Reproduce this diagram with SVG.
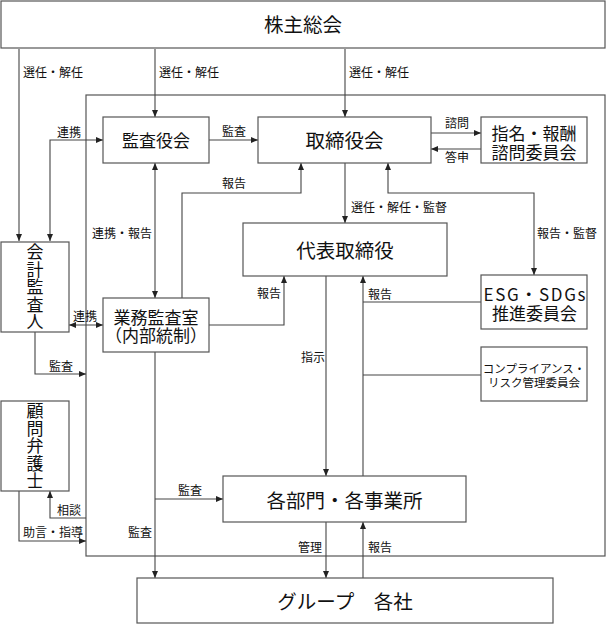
<svg xmlns="http://www.w3.org/2000/svg" width="606" height="624" viewBox="0 0 606 624">
<defs>
<marker id="ah" viewBox="0 0 7 6" refX="7" refY="3" markerWidth="7" markerHeight="6" markerUnits="userSpaceOnUse" orient="auto-start-reverse">
<path d="M0,0 L7,3 L0,6 z" fill="#222"/>
</marker>
<style>
.box{fill:#fff;stroke:#555;stroke-width:1.2}
.frame{fill:none;stroke:#555;stroke-width:1.2}
.ln{fill:none;stroke:#444;stroke-width:1.1}
.a{marker-end:url(#ah)}
.b{marker-start:url(#ah);marker-end:url(#ah)}
text{font-family:"Noto Sans CJK JP","Noto Sans",sans-serif;fill:#111}
.big{font-size:19.5px;text-anchor:middle}
.mid{font-size:17px;text-anchor:middle}
.vt{font-size:17px;text-anchor:middle;writing-mode:vertical-rl;letter-spacing:0.5px}
.sm{font-size:11.5px;text-anchor:middle}
.lb{font-size:12px}
</style>
</defs>
<rect x="0" y="0" width="606" height="624" fill="#fff"/>
<rect class="frame" x="86" y="95" width="519" height="461"/>

<g id="connectors">
<path class="ln a" d="M19,49 V241"/>
<path class="ln a" d="M155,49 V117"/>
<path class="ln a" d="M345,49 V117"/>
<path class="ln b" d="M50,241 V140 H103"/>
<path class="ln a" d="M209,140 H258"/>
<path class="ln b" d="M155,163 V298"/>
<path class="ln a" d="M182,298 V193 H301 V163"/>
<path class="ln a" d="M431,133 H481"/>
<path class="ln a" d="M481,149 H431"/>
<path class="ln b" d="M388,163 V193 H534 V275"/>
<path class="ln a" d="M345,163 V223"/>
<path class="ln b" d="M69,325 H103"/>
<path class="ln a" d="M209,325 H284 V276"/>
<path class="ln a" d="M35,332 V374 H86"/>
<path class="ln a" d="M363,476 V276"/>
<path class="ln" d="M481,302 H363"/>
<path class="ln" d="M481,375 H363"/>
<path class="ln a" d="M326,276 V476"/>
<path class="ln a" d="M155,352 V578"/>
<path class="ln a" d="M155,499 H223"/>
<path class="ln a" d="M86,518 H50 V491"/>
<path class="ln a" d="M19,491 V541 H86"/>
<path class="ln a" d="M326,522 V578"/>
<path class="ln a" d="M363,578 V522"/>
</g>

<g id="labels">
<text class="lb" x="23" y="76.5">選任・解任</text>
<text class="lb" x="159" y="76.5">選任・解任</text>
<text class="lb" x="349" y="76.5">選任・解任</text>
<text class="lb" x="57" y="136.5">連携</text>
<text class="lb" x="222" y="135.5">監査</text>
<text class="lb" x="222" y="187.5">報告</text>
<text class="lb" x="92" y="237.5">連携・報告</text>
<text class="lb" x="445" y="127.5">諮問</text>
<text class="lb" x="445" y="161.5">答申</text>
<text class="lb" x="351" y="211.5">選任・解任・監督</text>
<text class="lb" x="537" y="237.5">報告・監督</text>
<text class="lb" x="257" y="297.5">報告</text>
<text class="lb" x="368" y="298.5">報告</text>
<text class="lb" x="73" y="320.5">連携</text>
<text class="lb" x="49" y="370.5">監査</text>
<text class="lb" x="301" y="361.5">指示</text>
<text class="lb" x="178" y="494.5">監査</text>
<text class="lb" x="57" y="514.5">相談</text>
<text class="lb" x="23" y="536.5">助言・指導</text>
<text class="lb" x="128" y="536.5">監査</text>
<text class="lb" x="298" y="551.5">管理</text>
<text class="lb" x="368" y="551.5">報告</text>
</g>

<g id="shareholders">
<rect class="box" x="1" y="1" width="604" height="47"/>
<text class="big" x="303" y="32">株主総会</text>
</g>
<g id="audit-board">
<rect class="box" x="103" y="117" width="106" height="46"/>
<text class="mid" x="156" y="146.5">監査役会</text>
</g>
<g id="board">
<rect class="box" x="258" y="117" width="173" height="46"/>
<text class="big" x="344.5" y="147.5">取締役会</text>
</g>
<g id="nomination-committee">
<rect class="box" x="481" y="117" width="106" height="46"/>
<text class="mid" x="534" y="139.5">指名・報酬<tspan x="534" dy="19">諮問委員会</tspan></text>
</g>
<g id="president">
<rect class="box" x="243" y="223" width="204" height="53"/>
<text class="big" x="345" y="257.5">代表取締役</text>
</g>
<g id="esg-committee">
<rect class="box" x="481" y="275" width="106" height="54"/>
<text class="mid" x="534.5" y="300.5"><tspan textLength="102" lengthAdjust="spacing">ESG・SDGs</tspan><tspan x="534.5" dy="19">推進委員会</tspan></text>
</g>
<g id="compliance-committee">
<rect class="box" x="481" y="347" width="106" height="54"/>
<text class="sm" x="534" y="372.5">コンプライアンス・<tspan x="534" dy="14">リスク管理委員会</tspan></text>
</g>
<g id="internal-audit">
<rect class="box" x="103" y="298" width="106" height="54"/>
<text class="mid" x="156" y="323.5">業務監査室<tspan x="156" dy="18">（内部統制）</tspan></text>
</g>
<g id="accounting-auditor">
<rect class="box" x="1" y="242" width="68" height="90"/>
<text class="vt" x="35" y="287">会計監査人</text>
</g>
<g id="legal-advisor">
<rect class="box" x="1" y="401" width="68" height="90"/>
<text class="vt" x="35" y="446">顧問弁護士</text>
</g>
<g id="divisions">
<rect class="box" x="223" y="476" width="243" height="46"/>
<text class="big" x="344.5" y="507.5">各部門・各事業所</text>
</g>
<g id="group-companies">
<rect class="box" x="137" y="578" width="416" height="45"/>
<text class="big" x="345" y="609">グループ　各社</text>
</g>
</svg>
